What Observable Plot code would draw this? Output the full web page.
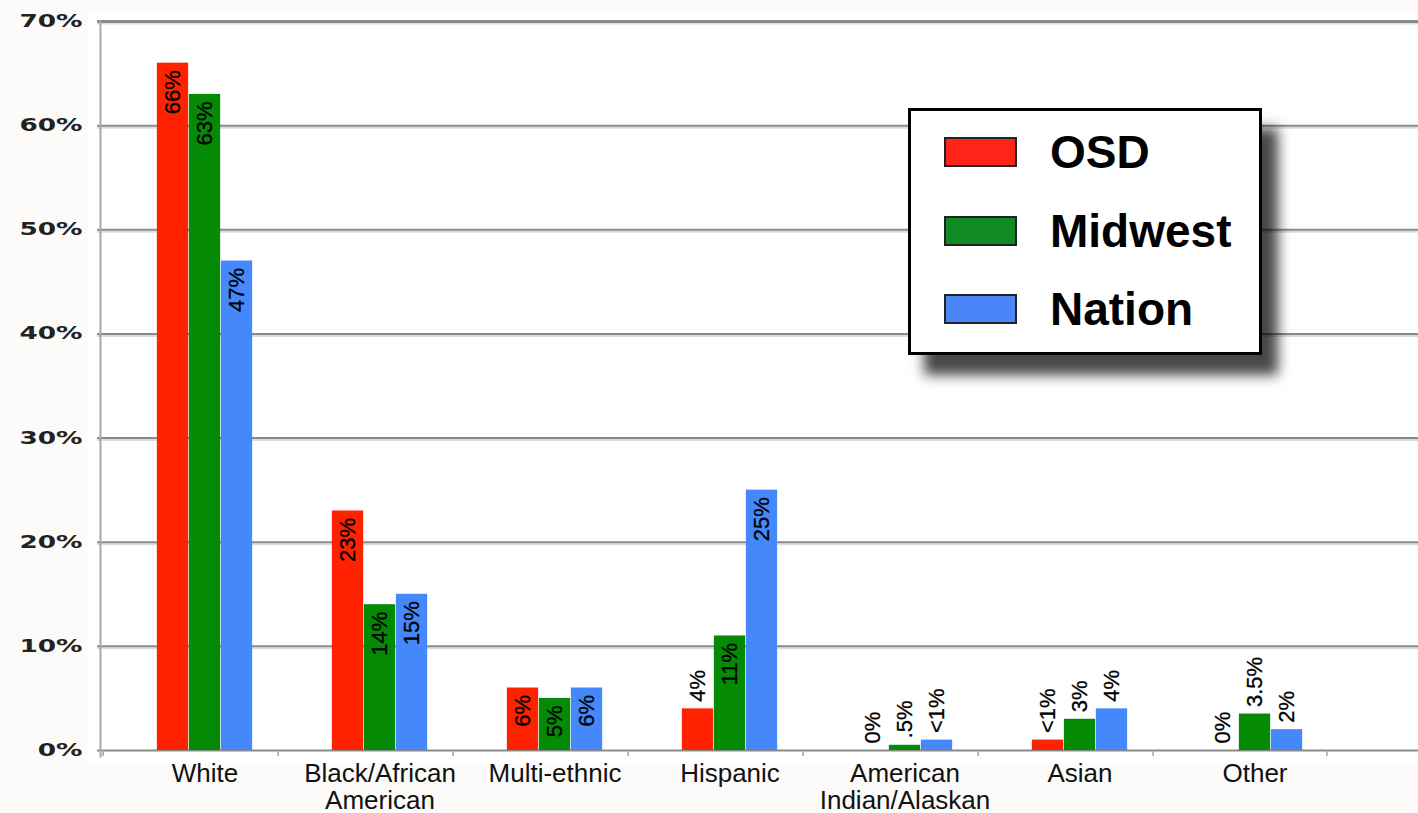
<!DOCTYPE html>
<html>
<head>
<meta charset="utf-8">
<script src="https://cdn.jsdelivr.net/npm/d3@7"></script>
<script src="https://cdn.jsdelivr.net/npm/@observablehq/plot@0.6"></script>
<style>
  html, body { margin: 0; padding: 0; background: #fcfbf9; }
  #wrap { position: relative; width: 1418px; height: 813px; }
  #legend {
    position: absolute; left: 908px; top: 108px; width: 348px; height: 239px;
    border: 3px solid #000; background: #fff;
    box-shadow: 16px 20px 12px rgba(0,0,0,0.72);
    font-family: "Liberation Sans", Arial, sans-serif; font-weight: bold; font-size: 46px;
    box-sizing: content-box; padding-top: 2px;
  }
  #legend .row { display: flex; align-items: center; height: 78.5px; }
  #legend .sw { width: 69px; height: 26px; border: 2px solid #222; margin-left: 33px; margin-right: 33px; }
</style>
</head>
<body>
<div id="wrap"></div>
<script>
const categories = ["White", "Black/African\nAmerican", "Multi-ethnic", "Hispanic", "American\nIndian/Alaskan", "Asian", "Other"];
const series = ["OSD", "Midwest", "Nation"];
const osdValues = [66, 23, 6, 4, 0, 1, 0];
const midwestValues = [63, 14, 5, 11, 0.5, 3, 3.5];
const nationValues = [47, 15, 6, 25, 1, 4, 2];
const osdLabels = ["66%", "23%", "6%", "4%", "0%", "<1%", "0%"];
const midwestLabels = ["63%", "14%", "5%", "11%", ".5%", "3%", "3.5%"];
const nationLabels = ["47%", "15%", "6%", "25%", "<1%", "4%", "2%"];
const yTicks = [0, 10, 20, 30, 40, 50, 60, 70];

const barColors = ["#ff2200", "#048a04", "#4588fb"];
const legendColors = ["#ff2418", "#108a22", "#4a86f8"];

const valuesBySeries = [osdValues, midwestValues, nationValues];
const labelsBySeries = [osdLabels, midwestLabels, nationLabels];
const data = series.flatMap((s, i) => categories.map((c, j) => ({
  series: s, si: i, category: c, value: valuesBySeries[i][j], label: labelsBySeries[i][j]
})));

const W = 1418, H = 813;
const xRange = [114, 1344];
const step = (xRange[1] - xRange[0]) / categories.length;
const barW = 32;
const groupW = barW * series.length;

const marks = [
  Plot.frame({fill: "white", insetLeft: -13, insetTop: -9, insetBottom: -13}),
  Plot.ruleY(yTicks.filter(d => d > 0), {y: d => d, stroke: "#dcdcdc", strokeWidth: 2, dy: 2, insetLeft: -3}),
  Plot.ruleY(yTicks, {y: d => d, stroke: "#8a8a8a", strokeWidth: d => d === 70 ? 3 : 2, insetLeft: -3}),
  Plot.frame({anchor: "left", stroke: "#a8a8a8", strokeWidth: 2, insetBottom: -6}),
  Plot.ruleX(categories, {x: d => d, y1: 0, y2: 0, dx: -step / 2 - 14, insetBottom: -6, stroke: "#a0a0a0", strokeWidth: 1.5}),
  Plot.ruleX(categories.slice(-1), {x: d => d, y1: 0, y2: 0, dx: step / 2 - 16, insetBottom: -6, stroke: "#a0a0a0", strokeWidth: 1.5})
];

series.forEach((s, i) => {
  const rows = data.filter(d => d.si === i);
  const left = step / 2 - groupW / 2 + barW * i;
  const right = step - left - barW;
  marks.push(Plot.barY(rows, {x: "category", y: "value", fill: barColors[i], insetLeft: left, insetRight: right}));
  const dx = (i - 1) * barW;
  const textOpts = {x: "category", y: "value", text: "label", rotate: -90, dx, fontSize: 22,
    fontFamily: "Liberation Sans, Arial, sans-serif", fill: "#000", stroke: "#000", strokeWidth: 0.3};
  marks.push(Plot.text(rows.filter(d => d.value >= 5), {...textOpts, textAnchor: "end", dy: 7}));
  marks.push(Plot.text(rows.filter(d => d.value < 5), {...textOpts, textAnchor: "start", dy: -7}));
});

marks.push(Plot.axisX({tickSize: 0, tickPadding: 12, fontSize: 26, lineHeight: 1.04,
  fontFamily: "Liberation Sans, Arial, sans-serif", label: null, fill: "#111"}));
marks.push(Plot.axisY({ticks: yTicks, tickFormat: d => d + "%", tickSize: 0, tickPadding: 18,
  fontSize: 17, fontWeight: "bold", fontFamily: "DejaVu Sans, sans-serif", label: null, fill: "#222"}));

const chart = Plot.plot({
  width: W, height: H,
  marginLeft: 100, marginRight: 0, marginTop: 21, marginBottom: 63,
  style: {background: "transparent", overflow: "visible"},
  x: {domain: categories, range: xRange, padding: 0, label: null},
  y: {domain: [0, 70], label: null},
  marks
});

const wrap = document.getElementById("wrap");
wrap.appendChild(chart);

// widen the y tick labels (extended face in the original)
d3.select(chart).selectAll('g[aria-label="y-axis tick label"] text').each(function() {
  const L = this.getComputedTextLength();
  this.setAttribute("textLength", L * 1.55);
  this.setAttribute("lengthAdjust", "spacingAndGlyphs");
});

const legend = document.createElement("div");
legend.id = "legend";
series.forEach((s, i) => {
  const row = document.createElement("div");
  row.className = "row";
  const sw = document.createElement("div");
  sw.className = "sw";
  sw.style.background = legendColors[i];
  const t = document.createElement("span");
  t.textContent = s;
  row.appendChild(sw);
  row.appendChild(t);
  legend.appendChild(row);
});
wrap.appendChild(legend);
</script>
</body>
</html>
